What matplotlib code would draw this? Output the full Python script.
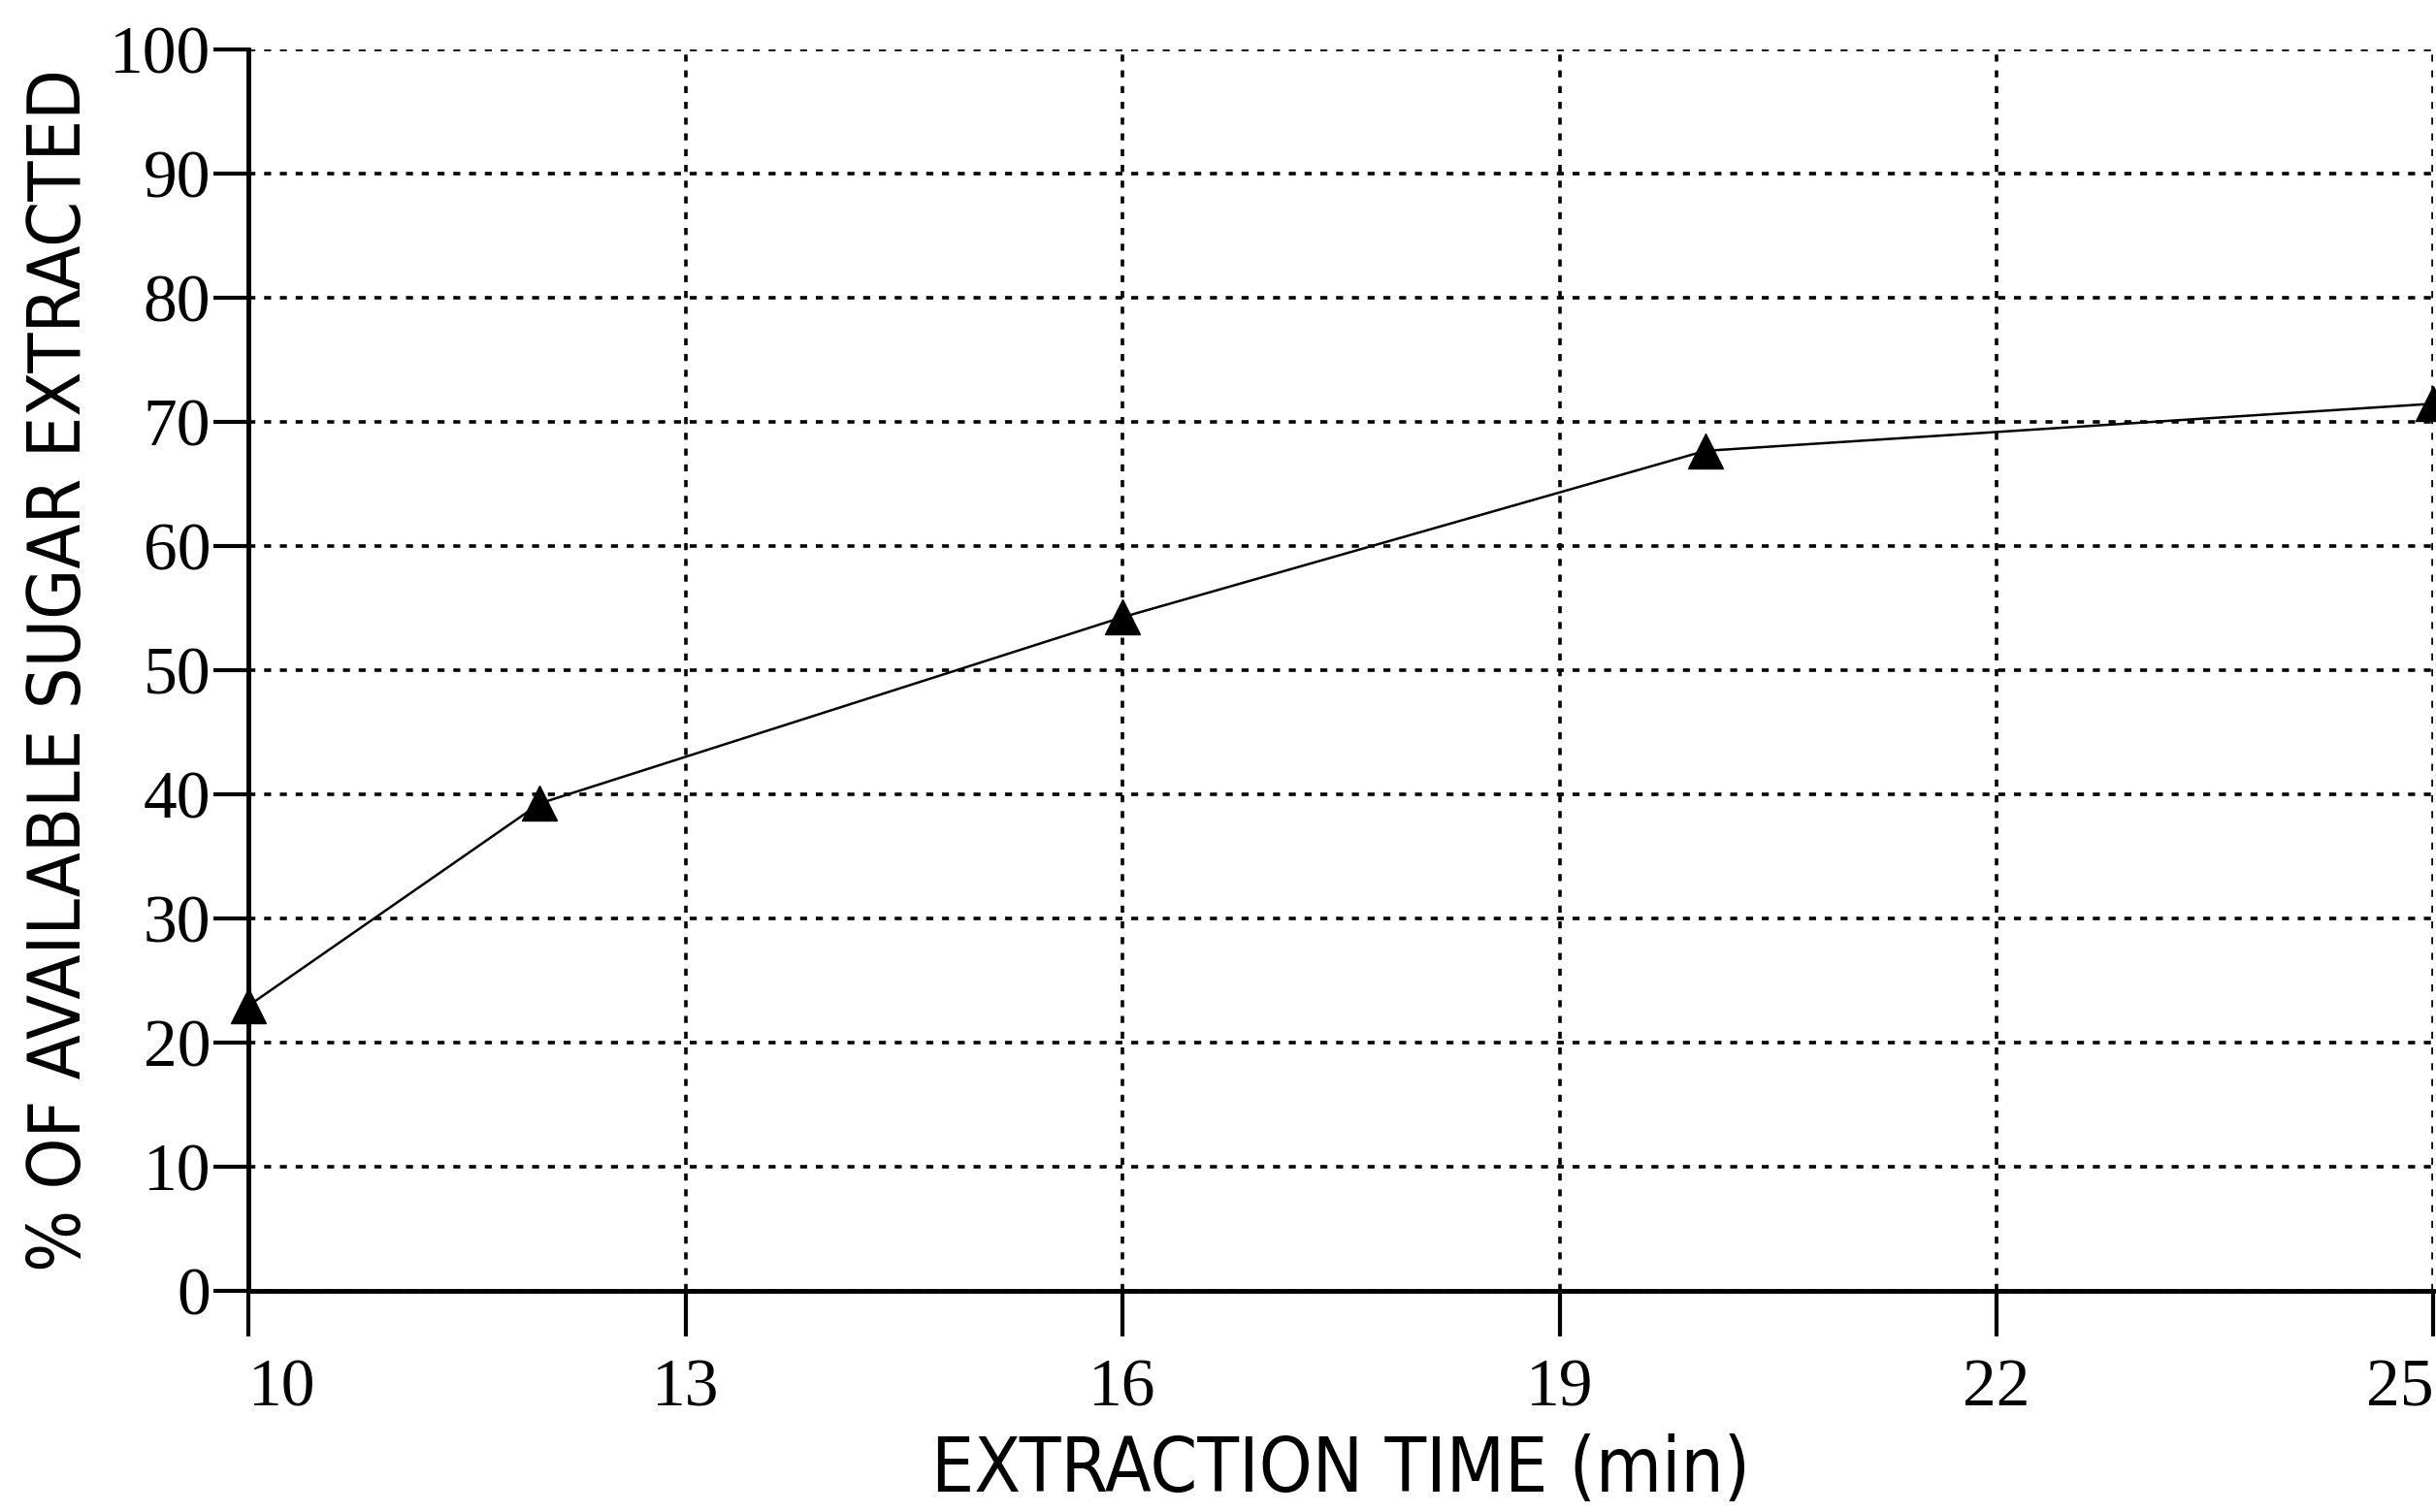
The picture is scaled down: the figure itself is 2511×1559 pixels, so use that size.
import numpy as np
import matplotlib.pyplot as plt

# extraction time (min) and % of available sugar extracted
time_min = [10, 12, 16, 20, 25]
sugar_pct = [23, 39.3, 54.3, 67.7, 71.5]

x_ticks = [10, 13, 16, 19, 22, 25]
y_ticks = [0, 10, 20, 30, 40, 50, 60, 70, 80, 90, 100]

fig = plt.figure(figsize=(25.11, 15.59), dpi=100)
ax = fig.add_axes([0.102, 0.146, 0.897, 0.821])

ax.plot(time_min, sugar_pct, color='black', linewidth=1.8,
        marker='^', markersize=26, markerfacecolor='black',
        markeredgecolor='black', clip_on=False, zorder=5)

ax.set_xlim(10, 25)
ax.set_ylim(0, 100)
ax.set_xticks(x_ticks)
ax.set_yticks(y_ticks)
ax.set_xticklabels([str(t) for t in x_ticks], family='Liberation Serif', fontsize=50)
ax.set_yticklabels([str(t) for t in y_ticks], family='Liberation Serif', fontsize=50)

# first and last x labels sit inside the axis span, as in the original
xlabels = ax.get_xticklabels()
xlabels[0].set_horizontalalignment('left')
xlabels[-1].set_horizontalalignment('right')

ax.grid(True, color='black', linestyle=(0, (2, 2.5)), linewidth=2.6)
ax.set_axisbelow(True)

ax.spines['top'].set_visible(False)
ax.spines['right'].set_visible(False)
ax.spines['left'].set_linewidth(3.5)
ax.spines['bottom'].set_linewidth(3.5)
ax.tick_params(axis='x', direction='out', length=34, width=3, pad=16)
ax.tick_params(axis='y', direction='out', length=26, width=3, pad=2)

ax.set_xlabel('EXTRACTION TIME (min)', family='DejaVu Sans', fontstretch='condensed',
              fontsize=56, labelpad=10)
ax.set_ylabel('% OF AVAILABLE SUGAR EXTRACTED', family='DejaVu Sans', fontstretch='condensed',
              fontsize=54, labelpad=10)

plt.savefig('out.png', dpi=100)
